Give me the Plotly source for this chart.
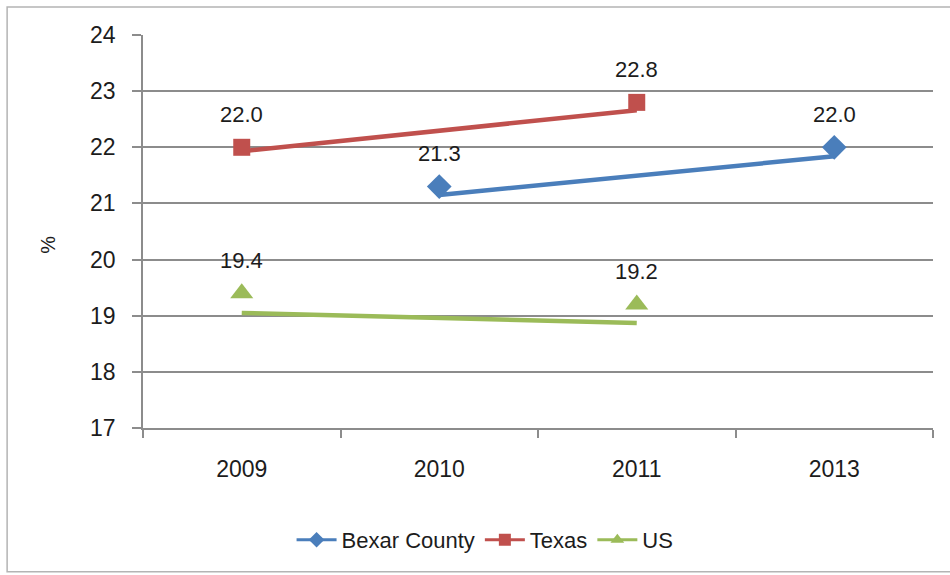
import plotly.graph_objects as go

# Category axis (survey years) and series values, in percent
years = ["2009", "2010", "2011", "2013"]
bexar = [None, 21.3, None, 22.0]
texas = [22.0, None, 22.8, None]
us = [19.4, None, 19.2, None]

# Connector lines as rendered in the chart (slightly below the markers)
bexar_line = [None, 21.15, None, 21.84]
texas_line = [21.93, None, 22.66, None]
us_line = [19.05, None, 18.87, None]

y_ticks = [17, 18, 19, 20, 21, 22, 23, 24]

series = [
    ("Bexar County", bexar, bexar_line, "#4A7EBB", "diamond", 19),
    ("Texas", texas, texas_line, "#C0504D", "square", 17),
    ("US", us, us_line, "#9BBB59", "triangle-up", 20),
]

FONT = "Liberation Sans, Arial, sans-serif"
TEXT = "#1c1c1c"

fig = go.Figure()

for name, vals, line_vals, color, symbol, msize in series:
    xs = [y for y, v in zip(years, line_vals) if v is not None]
    ys = [v for v in line_vals if v is not None]
    fig.add_trace(go.Scatter(
        x=xs, y=ys, mode="lines", line=dict(color=color, width=4.5),
        showlegend=False, hoverinfo="skip",
    ))

for name, vals, line_vals, color, symbol, msize in series:
    xs = [y for y, v in zip(years, vals) if v is not None]
    ys = [v for v in vals if v is not None]
    fig.add_trace(go.Scatter(
        x=xs, y=ys, mode="markers", name=name,
        marker=dict(symbol=symbol, size=msize, color=color),
        showlegend=False,
    ))
    # legend entry with line + marker symbol
    fig.add_trace(go.Scatter(
        x=[None], y=[None], mode="lines+markers", name=name,
        line=dict(color=color, width=3),
        marker=dict(symbol=symbol, size=12, color=color),
    ))
    # value labels above each marker (category index keeps the x exact)
    for x, v in zip(xs, ys):
        fig.add_annotation(
            x=years.index(x), y=v, text=f"{v:.1f}", showarrow=False, yshift=33,
            font=dict(family=FONT, size=22, color=TEXT),
        )

# y-axis title
fig.add_annotation(
    xref="paper", yref="paper", x=-0.137, y=0.466, text="%",
    textangle=-90, showarrow=False, font=dict(family=FONT, size=20, color=TEXT),
)

# chart area border
fig.add_shape(
    type="rect", xref="paper", yref="paper",
    x0=-0.172, x1=1.04, y0=-0.366, y1=1.071,
    line=dict(color="#b4b4b4", width=1.5), fillcolor="rgba(0,0,0,0)",
    layer="below",
)

fig.update_layout(
    width=950, height=575,
    margin=dict(l=143, r=17, t=35, b=147),
    paper_bgcolor="white", plot_bgcolor="white",
    font=dict(family=FONT, color=TEXT),
    legend=dict(
        orientation="h", xref="paper", yref="paper",
        x=0.433, y=-0.285, xanchor="center", yanchor="middle",
        font=dict(family=FONT, size=22, color=TEXT),
        itemwidth=40, tracegroupgap=0,
    ),
    xaxis=dict(
        type="category", categoryorder="array", categoryarray=years,
        range=[-0.5, 3.5], showgrid=False, zeroline=False,
        showline=True, linecolor="#8c8c8c", linewidth=1.5,
        ticks="outside", tickson="boundaries", ticklen=8,
        tickcolor="#8c8c8c", tickwidth=1.5,
        tickfont=dict(family=FONT, size=23, color=TEXT),
        ticklabelstandoff=20,
    ),
    yaxis=dict(
        range=[17, 24], tickvals=y_ticks, showgrid=True,
        gridcolor="#8c8c8c", gridwidth=1.5, zeroline=False,
        showline=True, linecolor="#8c8c8c", linewidth=1.5,
        ticks="outside", ticklen=9, tickcolor="#8c8c8c", tickwidth=1.5,
        tickfont=dict(family=FONT, size=23, color=TEXT),
        ticklabelstandoff=12,
    ),
)

fig.write_html("out.html")
